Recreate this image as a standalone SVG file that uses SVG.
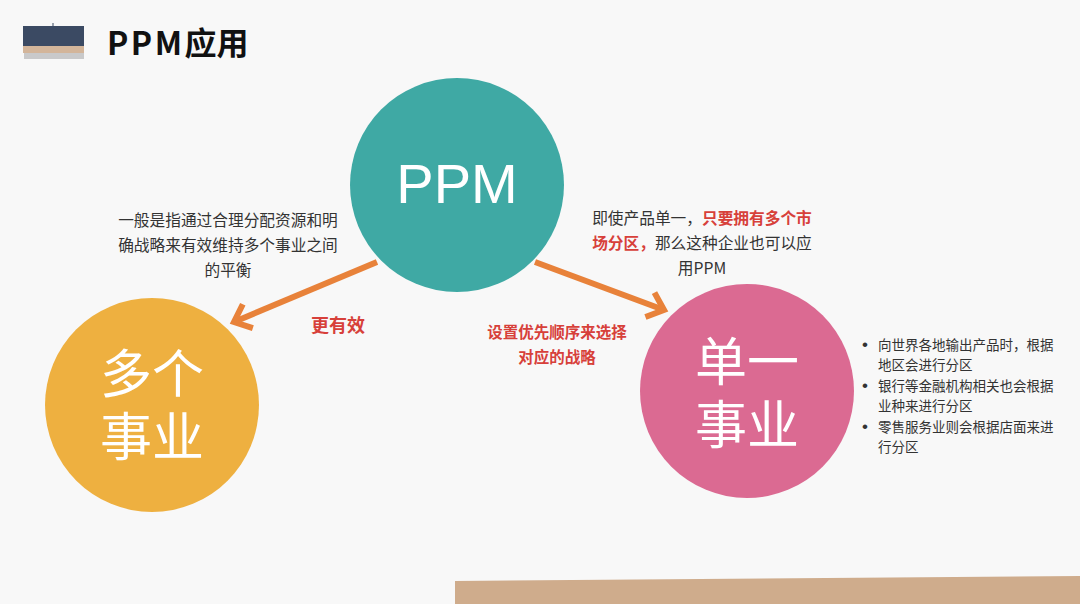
<svg xmlns="http://www.w3.org/2000/svg" width="1080" height="604" viewBox="0 0 1080 604">
<defs>
<style>
.cjk{font-family:"Noto Sans CJK SC","Liberation Sans",sans-serif}
.body{font-size:15.7px;fill:#333333}
.red{fill:#d7403a;font-weight:bold}
.big{font-family:"Liberation Sans","Noto Sans CJK SC",sans-serif;font-size:52px;fill:#ffffff}
.bul{font-size:13.5px;fill:#333333}
.dot{font-size:17px;fill:#333333;font-family:"Liberation Sans",sans-serif}
.arrow{stroke:#e8823a;stroke-width:6;fill:none}
</style>
<marker id="head" markerUnits="userSpaceOnUse" markerWidth="40" markerHeight="40" viewBox="-20 -20 40 40" refX="0" refY="0" orient="auto" overflow="visible">
<path d="M-15,-13 L0,0 L-15,13" stroke="#e8823a" stroke-width="6" fill="none" stroke-linejoin="miter"/>
</marker>
</defs>
<rect x="0" y="0" width="1080" height="604" fill="#f8f8f8"/>
<g id="header">
<rect x="24" y="53" width="60" height="6" fill="#b5b5b7" opacity="0.7"/>
<rect x="23" y="26" width="61" height="20" fill="#3b4a63"/>
<rect x="23" y="46" width="61" height="7" fill="#d3b59a"/>
<path d="M53,26 L53,23" stroke="#3b4a63" stroke-width="1"/>
<text x="107" y="55" class="cjk" font-size="32" font-weight="bold" fill="#111111"><tspan letter-spacing="2.5">PPM</tspan>应用</text>
</g>
<polygon points="455,581 1080,576 1080,604 455,604" fill="#cfac8c"/>
<g id="connectors">
<line x1="377" y1="262" x2="234" y2="322" class="arrow" marker-end="url(#head)"/>
<line x1="535" y1="262" x2="664" y2="310" class="arrow" marker-end="url(#head)"/>
</g>
<g id="node-ppm">
<circle cx="457" cy="185" r="107" fill="#3fa9a4"/>
<text x="457" y="203" text-anchor="middle" font-family="Liberation Sans, sans-serif" font-size="56" fill="#ffffff">PPM</text>
</g>
<g id="node-multi">
<circle cx="152" cy="405" r="107" fill="#eeb040"/>
<text x="152" y="393" text-anchor="middle" class="big">多个</text>
<text x="152" y="456" text-anchor="middle" class="big">事业</text>
</g>
<g id="node-single">
<circle cx="747" cy="391" r="107" fill="#db6a92"/>
<text x="747" y="381" text-anchor="middle" class="big">单一</text>
<text x="747" y="444" text-anchor="middle" class="big">事业</text>
</g>
<g id="label-left" class="cjk body" text-anchor="middle">
<text x="228" y="226">一般是指通过合理分配资源和明</text>
<text x="228" y="251">确战略来有效维持多个事业之间</text>
<text x="228" y="276">的平衡</text>
</g>
<g id="label-right" class="cjk body" text-anchor="middle">
<text x="702" y="224">即使产品单一，<tspan class="red">只要拥有多个市</tspan></text>
<text x="702" y="249"><tspan class="red">场分区，</tspan>那么这种企业也可以应</text>
<text x="702" y="274">用PPM</text>
</g>
<g id="label-effective">
<text x="338" y="332" text-anchor="middle" class="cjk red" font-size="18">更有效</text>
</g>
<g id="label-priority" class="cjk red" font-size="15.5" text-anchor="middle">
<text x="557" y="338">设置优先顺序来选择</text>
<text x="557" y="363">对应的战略</text>
</g>
<g id="bullets">
<text x="862" y="350" class="dot">•</text>
<text x="878" y="350" class="cjk bul">向世界各地输出产品时，根据</text>
<text x="878" y="370" class="cjk bul">地区会进行分区</text>
<text x="862" y="391" class="dot">•</text>
<text x="878" y="391" class="cjk bul">银行等金融机构相关也会根据</text>
<text x="878" y="411" class="cjk bul">业种来进行分区</text>
<text x="862" y="432" class="dot">•</text>
<text x="878" y="432" class="cjk bul">零售服务业则会根据店面来进</text>
<text x="878" y="452" class="cjk bul">行分区</text>
</g>
</svg>
